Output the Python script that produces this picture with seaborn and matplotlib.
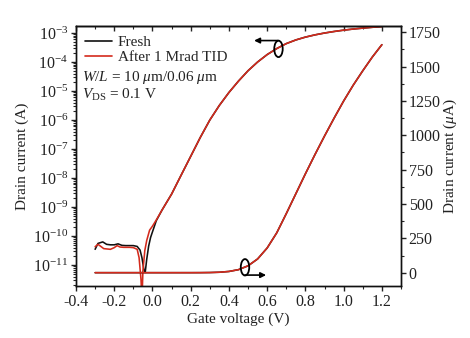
import numpy as np
import pandas as pd
import matplotlib
matplotlib.use("Agg")
import matplotlib.pyplot as plt
import seaborn as sns
from matplotlib.patches import Ellipse
from matplotlib.ticker import (FixedLocator, LogFormatterSciNotation, MultipleLocator,
                               NullFormatter, FormatStrFormatter)

# ---- transfer characteristics, drain current in A ----
# sub-threshold / noise floor part, separate for each device state
fresh_v_low = [-0.30, -0.285, -0.26, -0.24, -0.22, -0.20, -0.18, -0.16, -0.14, -0.12,
               -0.10, -0.08, -0.065, -0.055, -0.045, -0.038, -0.03, -0.02, -0.01, 0.0, 0.02]
fresh_i_low = [3.5e-11, 5.6e-11, 6.3e-11, 5.2e-11, 5.0e-11, 5.0e-11, 5.4e-11, 4.8e-11, 4.7e-11, 4.7e-11,
               4.7e-11, 4.4e-11, 3.3e-11, 1.8e-11, 7.0e-12, 5.6e-12, 1.6e-11, 4.5e-11, 8.9e-11, 1.4e-10, 3.4e-10]

tid_v_low = [-0.30, -0.285, -0.27, -0.255, -0.22, -0.20, -0.185, -0.17, -0.15, -0.12,
             -0.10, -0.08, -0.07, -0.06, -0.055, -0.05, -0.04, -0.03, -0.015, 0.0, 0.02]
tid_i_low = [4.3e-11, 5.2e-11, 4.4e-11, 3.7e-11, 3.5e-11, 4.0e-11, 4.7e-11, 4.2e-11, 4.1e-11, 4.1e-11,
             4.0e-11, 3.5e-11, 1.8e-11, 3.2e-12, 6.0e-13, 6.3e-12, 3.2e-11, 7.1e-11, 1.6e-10, 2.2e-10, 3.6e-10]

# above ~0.05 V both curves coincide
common_v = [0.05, 0.10, 0.15, 0.20, 0.25, 0.30, 0.35, 0.40, 0.45, 0.50, 0.55, 0.60,
            0.65, 0.70, 0.75, 0.80, 0.85, 0.90, 0.95, 1.00, 1.05, 1.10, 1.15, 1.20]
common_i = [7.9e-10, 2.8e-9, 1.26e-8, 5.6e-8, 2.5e-7, 1.0e-6, 3.2e-6, 8.9e-6, 2.2e-5, 5.0e-5, 1.0e-4, 1.8e-4,
            2.9e-4, 4.3e-4, 5.75e-4, 7.2e-4, 8.6e-4, 9.95e-4, 1.125e-3, 1.25e-3, 1.365e-3, 1.47e-3, 1.57e-3, 1.66e-3]

series_names = ["Fresh", "After 1 Mrad TID"]
series_colors = ["#111111", "#d42a1c"]
x_ticks = [-0.4, -0.2, 0.0, 0.2, 0.4, 0.6, 0.8, 1.0, 1.2]
left_ticks = [1e-11, 1e-10, 1e-9, 1e-8, 1e-7, 1e-6, 1e-5, 1e-4, 1e-3]
right_ticks = [0, 250, 500, 750, 1000, 1250, 1500, 1750]

frames = []
for name, v_low, i_low in [(series_names[0], fresh_v_low, fresh_i_low),
                           (series_names[1], tid_v_low, tid_i_low)]:
    v = list(v_low) + common_v
    i = list(i_low) + common_i
    frames.append(pd.DataFrame({"Vg": v, "Id": i, "state": name}))
df = pd.concat(frames, ignore_index=True)
df["Id_uA"] = df["Id"] * 1e6

# ---- style ----
sns.set_theme(style="ticks")
plt.rcParams["font.family"] = ["Liberation Serif", "DejaVu Serif"]
plt.rcParams["mathtext.fontset"] = "custom"
plt.rcParams["mathtext.rm"] = "Liberation Serif"
plt.rcParams["mathtext.it"] = "Liberation Serif:italic"
plt.rcParams["mathtext.bf"] = "Liberation Serif:bold"
plt.rcParams["font.size"] = 11
plt.rcParams["axes.linewidth"] = 1.0

TICK_FS = 11.5
TEXT_FS = 11
INK = "#222222"

fig = plt.figure(figsize=(4.70, 3.38), dpi=100)
ax = fig.add_axes([76 / 470, 1 - 286 / 338, 325 / 470, 260 / 338])
ax2 = ax.twinx()

palette = dict(zip(series_names, series_colors))
lw = 1.15

# log scale curves (left axis)
for name in series_names:
    sns.lineplot(data=df[df["state"] == name], x="Vg", y="Id", ax=ax, color=palette[name],
                 lw=lw, sort=False, estimator=None, legend=False)
# linear scale curves (right axis)
for name in series_names:
    sns.lineplot(data=df[df["state"] == name], x="Vg", y="Id_uA", ax=ax2, color=palette[name],
                 lw=lw, sort=False, estimator=None, legend=False)

ax.set_yscale("log")
ax.set_xlim(-0.4, 1.3)
ax.set_ylim(10 ** -11.72, 10 ** -2.76)
ax2.set_ylim(-97, 1796)

ax.set_xticks(x_ticks)
ax.xaxis.set_major_formatter(FormatStrFormatter("%.1f"))
ax.xaxis.set_minor_locator(MultipleLocator(0.1))
ax.yaxis.set_major_locator(FixedLocator(left_ticks))
ax.yaxis.set_major_formatter(LogFormatterSciNotation(base=10))
minor_log = [m * d for d in [1e-12] + left_ticks for m in range(2, 10)]
minor_log = [t for t in minor_log if 10 ** -11.72 <= t <= 10 ** -2.76]
ax.yaxis.set_minor_locator(FixedLocator(minor_log))
ax.yaxis.set_minor_formatter(NullFormatter())
ax2.set_yticks(right_ticks)
ax2.yaxis.set_minor_locator(MultipleLocator(125))

ax.tick_params(axis="both", which="major", direction="out", length=3.5, width=1.0,
               labelsize=TICK_FS, colors=INK, pad=2)
ax.tick_params(axis="both", which="minor", direction="out", length=2.0, width=0.8)
ax.tick_params(axis="x", top=False)
ax2.tick_params(axis="y", which="major", direction="out", length=3.5, width=1.0,
                labelsize=TICK_FS, colors=INK, pad=2)
ax2.tick_params(axis="y", which="minor", direction="out", length=2.0, width=0.8)

top = ax.secondary_xaxis("top")
top.set_xticks(x_ticks)
top.xaxis.set_minor_locator(MultipleLocator(0.1))
top.tick_params(axis="x", which="major", direction="in", length=3.5, width=1.0, labeltop=False)
top.tick_params(axis="x", which="minor", direction="in", length=2.0, width=0.8)

for a in (ax, ax2):
    for s in a.spines.values():
        s.set_visible(True)
        s.set_color("#111111")
        s.set_linewidth(1.0)

ax.set_xlabel("Gate voltage (V)", fontsize=TEXT_FS, color=INK, labelpad=2)
ax.set_ylabel("Drain current (A)", fontsize=TEXT_FS, color=INK, labelpad=3)
ax2.set_ylabel(r"Drain current ($\mu$A)", fontsize=TEXT_FS, color=INK, labelpad=1)

# legend and device info
handles = [plt.Line2D([], [], color=c, lw=1.2) for c in series_colors]
ax.legend(handles, series_names, loc="upper left", bbox_to_anchor=(0.0, 1.0), frameon=False,
          handlelength=1.75, handletextpad=0.4, labelspacing=0.1, borderaxespad=0.2,
          fontsize=TEXT_FS)
ax.text(0.018, 0.802, r"$W/L$ = 10 $\mu$m/0.06 $\mu$m", transform=ax.transAxes,
        fontsize=TEXT_FS, va="center", ha="left", color=INK)
ax.text(0.018, 0.733, r"$V_{\rm DS}$ = 0.1 V", transform=ax.transAxes,
        fontsize=TEXT_FS, va="center", ha="left", color=INK)

# ellipse + arrow markers indicating which axis each curve belongs to
for (cx, cy), (x0, x1, ya) in [((0.623, 0.912), (0.622, 0.548, 0.944)),
                               ((0.52, 0.072), (0.52, 0.585, 0.042))]:
    ax2.add_patch(Ellipse((cx, cy), 0.026, 0.063, transform=ax.transAxes, fill=False,
                          ec="black", lw=1.3, zorder=5))
    ax2.annotate("", xy=(x1, ya), xytext=(x0, ya), xycoords=ax.transAxes,
                 textcoords=ax.transAxes,
                 arrowprops=dict(arrowstyle="-|>", color="black", lw=1.2,
                                 mutation_scale=8, shrinkA=0, shrinkB=0), zorder=5)

fig.savefig("out.png", dpi=100, facecolor="white")
